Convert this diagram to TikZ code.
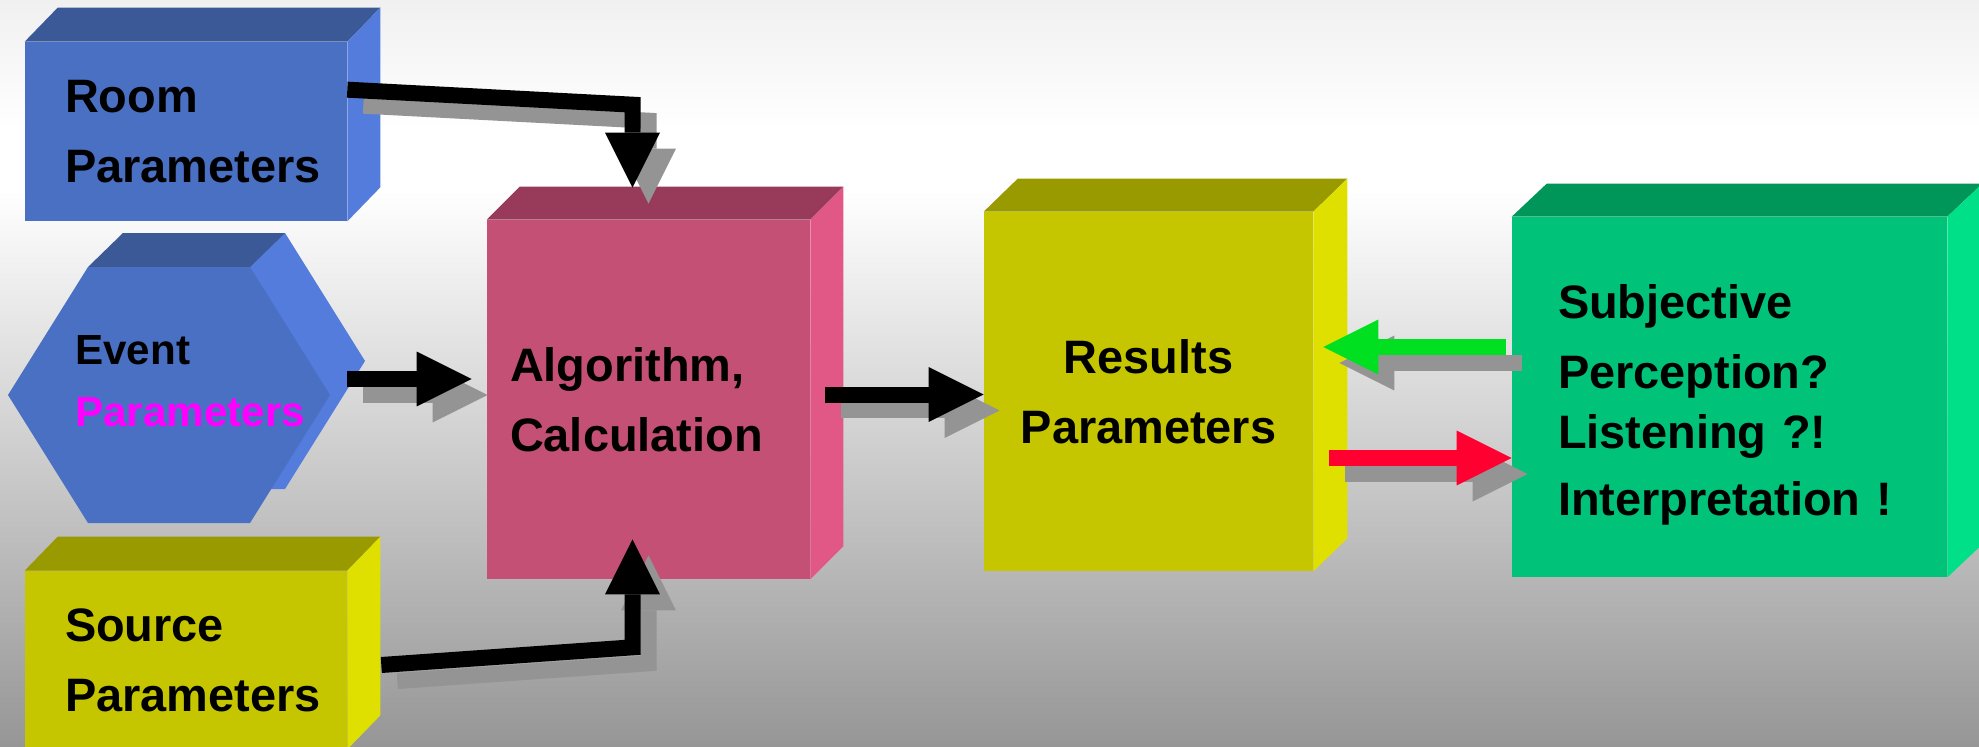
\documentclass[tikz,border=0pt]{standalone}
\usepackage{fontspec}
\setmainfont{Liberation Sans}
\usetikzlibrary{arrows.meta,calc}

\definecolor{bgtop}{RGB}{240,240,240}
\definecolor{bggray}{RGB}{150,150,150}
\definecolor{shadowgray}{RGB}{148,148,148}
\definecolor{bluefront}{RGB}{74,112,196}
\definecolor{bluetop}{RGB}{59,89,150}
\definecolor{blueside}{RGB}{84,124,220}
\definecolor{pinkfront}{RGB}{196,80,117}
\definecolor{pinktop}{RGB}{152,58,90}
\definecolor{pinkside}{RGB}{225,88,135}
\definecolor{yellowfront}{RGB}{198,198,0}
\definecolor{yellowtop}{RGB}{153,153,0}
\definecolor{yellowside}{RGB}{224,224,0}
\definecolor{greenfront}{RGB}{0,194,120}
\definecolor{greentop}{RGB}{0,150,90}
\definecolor{greenside}{RGB}{0,224,136}
\definecolor{arrowgreen}{RGB}{0,224,32}
\definecolor{arrowred}{RGB}{255,0,48}
\definecolor{magentatxt}{RGB}{255,0,255}

% top and side faces of a block: node, depth x, depth y, top colour, side colour
\newcommand{\blockfaces}[5]{%
  \fill[#4] (#1.north west) -- ++(#2,#3) -- ($(#1.north east)+(#2,#3)$) -- (#1.north east) -- cycle;
  \fill[#5] (#1.north east) -- ++(#2,#3) -- ($(#1.south east)+(#2,#3)$) -- (#1.south east) -- cycle;
}

\tikzset{
  block/.style={rectangle, inner xsep=0pt, inner ysep=0pt, align=left,
    font=\bfseries\fontsize{26.7}{39.8}\selectfont},
  flow/.style={line width=0.32cm, line join=miter,
    -{Triangle[width=1.1cm,length=1.1cm,line width=0pt]}},
  flowshadow/.style={flow, draw=shadowgray,
    transform canvas={xshift=0.32cm,yshift=-0.32cm}},
}

\begin{document}
\begin{tikzpicture}[x=0.02cm, y=-0.02cm]

    % background
    \useasboundingbox (0,0) rectangle (1979,747);
    \shade[top color=bgtop, bottom color=white] (0,0) rectangle (1979,130);
    \fill[white] (0,129) rectangle (1979,191);
    \shade[top color=white, bottom color=bggray] (0,190) rectangle (1979,747);

    % room
    \node[block, fill=bluefront, minimum width=6.44cm, minimum height=3.58cm,
      text width=4.84cm, inner xsep=0.8cm] (room) at (186,131.5) {Room\\Parameters};
    \blockfaces{room}{33}{-34}{bluetop}{blueside}

    % event (hexagon)
    \coordinate (event) at (169,395);
    \begin{scope}[shift={(event)}]
      \fill[blueside] (-126,-34) -- (-46,-162) -- (116,-162) -- (196,-34) -- (116,94) -- (-46,94) -- cycle;
      \fill[bluetop] (-81,-128) -- (-46,-162) -- (116,-162) -- (81,-128) -- cycle;
      \fill[bluefront] (-161,0) -- (-81,-128) -- (81,-128) -- (161,0) -- (81,128) -- (-81,128) -- cycle;
    \end{scope}
    \node[block, anchor=north west, text width=5cm,
      font=\bfseries\fontsize{24}{35.3}\selectfont] (eventtxt) at (75,335)
      {Event\\\textcolor{magentatxt}{Parameters}};

    % source
    \node[block, fill=yellowfront, minimum width=6.44cm, minimum height=3.56cm,
      text width=4.84cm, inner xsep=0.8cm] (source) at (186,660) {Source\\Parameters};
    \blockfaces{source}{33}{-34}{yellowtop}{yellowside}

    % algorithm
    \node[block, fill=pinkfront, minimum width=6.46cm, minimum height=7.18cm,
      text width=5.54cm, inner xsep=0.46cm] (calc) at (648.5,399.5) {Algorithm,\\Calculation};
    \blockfaces{calc}{33}{-33}{pinktop}{pinkside}

    % results
    \node[block, fill=yellowfront, minimum width=6.58cm, minimum height=7.18cm,
      text width=6.58cm, align=center] (result) at (1148.5,391.5) {Results\\Parameters};
    \blockfaces{result}{34}{-33}{yellowtop}{yellowside}

    % perception
    \node[block, fill=greenfront, minimum width=8.7cm, minimum height=7.2cm,
      text width=6.86cm, inner xsep=0.92cm] (percep) at (1729.5,397)
      {\rule{0pt}{0.98cm}Subjective\\Perception?\\[-5.7pt]Listening ?!\\[-1.7pt]Interpretation !};
    \blockfaces{percep}{35}{-33}{greentop}{greenside}

    % connector points
    \coordinate (r1) at ($(room.north east)+(0,48)$);
    \coordinate (r2) at ($(calc.north)+(-16,-115)$);
    \coordinate (r3) at ($(calc.north)+(-16,-32)$);
    \coordinate (e1) at ($(event)+(178,-16)$);
    \coordinate (e2) at ($(calc.west)+(-15,-20.5)$);
    \coordinate (s1) at ($(source.east)+(34,5)$);
    \coordinate (s2) at ($(calc.south)+(-16,68)$);
    \coordinate (s3) at ($(calc.south)+(-16,-40)$);
    \coordinate (c1) at ($(calc.east)+(15,-5)$);
    \coordinate (g1) at ($(percep.west)+(-6,-50)$);
    \coordinate (g2) at ($(g1 -| result.east)+(10,0)$);
    \coordinate (d1) at ($(result.east)+(16,66.5)$);

    % shadows
    \draw[flowshadow] (r1) -- (r2) -- (r3);
    \draw[flowshadow] (e1) -- (e2);
    \draw[flowshadow] (s1) -- (s2) -- (s3);
    \draw[flowshadow] (c1) -- (c1 -| result.west);
    \draw[flowshadow] (g1) -- (g2);
    \draw[flowshadow] (d1) -- (d1 -| percep.west);

    % arrows
    \draw[flow] (r1) -- (r2) -- (r3);
    \draw[flow] (e1) -- (e2);
    \draw[flow] (s1) -- (s2) -- (s3);
    \draw[flow] (c1) -- (c1 -| result.west);
    \draw[flow, arrowgreen] (g1) -- (g2);
    \draw[flow, arrowred] (d1) -- (d1 -| percep.west);

\end{tikzpicture}
\end{document}
